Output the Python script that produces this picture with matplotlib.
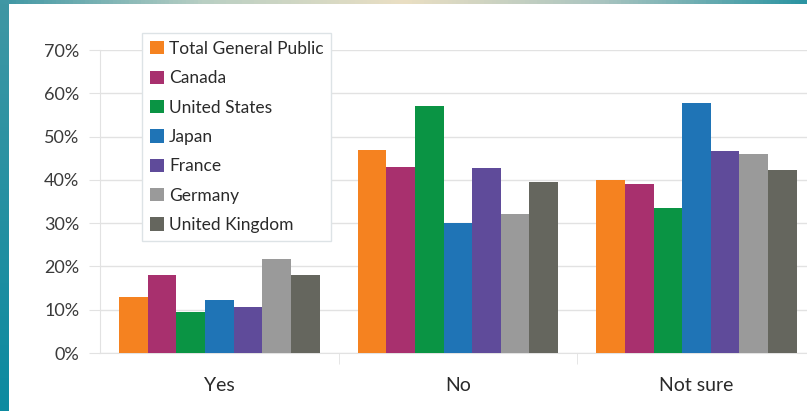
import matplotlib

matplotlib.use("Agg")
import matplotlib.pyplot as plt
import numpy as np
from matplotlib.colors import LinearSegmentedColormap

plt.rcParams["font.family"] = ["Lato", "DejaVu Sans"]

categories = ["Yes", "No", "Not sure"]
series = ["Total General Public", "Canada", "United States", "Japan",
          "France", "Germany", "United Kingdom"]
colors = ["#F58220", "#A8306E", "#0A9444", "#1F74B6", "#5F4B9A", "#9A9A9A", "#65665E"]

total_public = [13, 47, 40]
canada = [18, 43, 39]
united_states = [9.5, 57, 33.5]
japan = [12.2, 30, 57.8]
france = [10.6, 42.7, 46.6]
germany = [21.7, 32.1, 46]
united_kingdom = [18, 39.6, 42.3]
values = [total_public, canada, united_states, japan, france, germany, united_kingdom]

W, H = 807, 411
fig = plt.figure(figsize=(W / 100, H / 100), dpi=100)

# decorative frame: teal bar on the left, gradient band on top
bg = fig.add_axes([0, 0, 1, 1], zorder=-5)
bg.set_axis_off()
bg.set_xlim(0, W)
bg.set_ylim(H, 0)
side = LinearSegmentedColormap.from_list("side", ["#3f97a4", "#0c8aa0"])
bg.imshow(np.linspace(0, 1, 100)[:, None], cmap=side, aspect="auto",
          extent=[0, 9, H, 0])
top = LinearSegmentedColormap.from_list(
    "top", ["#3f97a4", "#b9cfc4", "#eadfc3", "#a9c4c0", "#2b94a2"])
bg.imshow(np.linspace(0, 1, 200)[None, :], cmap=top, aspect="auto",
          extent=[0, W, 4, 0])

ax = fig.add_axes([100 / W, (H - 353) / H, (W - 100) / W, (353 - 50) / H])
x = np.arange(len(categories))
n = len(series)
bw = 0.12
for i, (name, vals, c) in enumerate(zip(series, values, colors)):
    ax.bar(x + (i - (n - 1) / 2) * bw, np.array(vals) / 100, width=bw,
           color=c, label=name, zorder=3)

ax.set_xlim(-0.5, 2.463)
ax.set_ylim(0, 0.7)
ax.set_yticks(np.arange(0, 0.71, 0.1))
ax.set_yticklabels([f"{int(round(v * 100))}%" for v in np.arange(0, 0.71, 0.1)])
ax.yaxis.grid(True, color="#e2e2e2", lw=1, zorder=0)
ax.tick_params(axis="y", length=8, color="#e2e2e2", pad=7, labelsize=13,
               labelcolor="#3a3a3a")
ax.set_xticks(x)
ax.set_xticklabels(categories)
ax.tick_params(axis="x", length=0, pad=17, labelsize=14, labelcolor="#2a2a2a")
ax.set_xticks([0.5, 1.5], minor=True)
ax.tick_params(axis="x", which="minor", length=8, color="#e2e2e2")
for s in ["top", "right"]:
    ax.spines[s].set_visible(False)
for s in ["left", "bottom"]:
    ax.spines[s].set_color("#e2e2e2")

leg = ax.legend(loc="upper left", bbox_to_anchor=(142 / W, 1 - 33 / H),
                bbox_transform=fig.transFigure, fontsize=12.5,
                handlelength=0.8, handleheight=0.8, handletextpad=0.3,
                labelspacing=0.77, borderpad=0.45, borderaxespad=0,
                fancybox=False, framealpha=1, edgecolor="#dde3e6")
leg.get_frame().set_linewidth(1)
for t in leg.get_texts():
    t.set_color("#2a2a2a")

fig.savefig("out.png", dpi=100)
